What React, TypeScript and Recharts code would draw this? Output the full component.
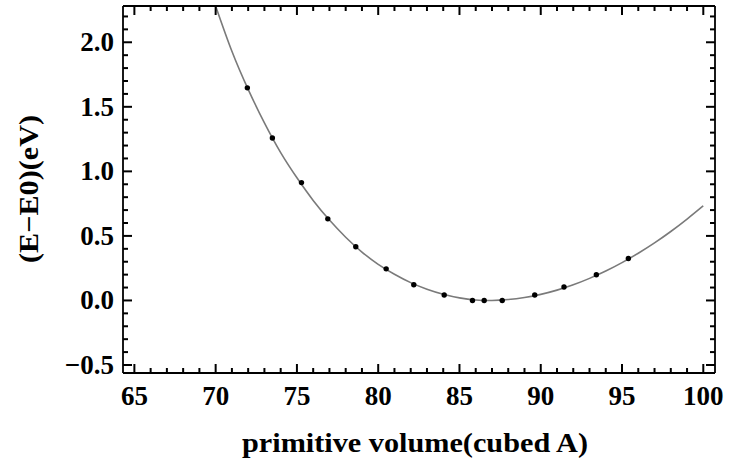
import { ComposedChart, Line, Scatter, XAxis, YAxis, Label } from 'recharts'

// computed energies at each primitive volume (cubed A), relative to E0 (eV)
const volumes = [71.95, 73.49, 75.28, 76.9, 78.62, 80.49, 82.19, 84.06, 85.8, 86.52, 87.63, 89.63, 91.43, 93.42, 95.39]
const energies = [1.647, 1.259, 0.913, 0.632, 0.416, 0.245, 0.122, 0.042, 0.0, 0.0, 0.0, 0.042, 0.104, 0.199, 0.325]

// fitted equation of state, sampled every 1 A^3
const fitVolumes = [70, 71, 72, 73, 74, 75, 76, 77, 78, 79, 80, 81, 82, 83, 84, 85, 86, 87, 88, 89, 90, 91, 92, 93, 94, 95, 96, 97, 98, 99, 100]
const fitEnergies = [2.28, 1.93, 1.635, 1.375, 1.145, 0.95, 0.775, 0.623, 0.49, 0.375, 0.28, 0.203, 0.138, 0.087, 0.048, 0.02, 0.004, 0.0, 0.007, 0.023, 0.047, 0.08, 0.121, 0.171, 0.228, 0.293, 0.366, 0.446, 0.534, 0.63, 0.733]

const xMajor = [65, 70, 75, 80, 85, 90, 95, 100]
const yMajor = [-0.5, 0, 0.5, 1, 1.5, 2]

const X_DOMAIN: [number, number] = [64.3, 100.72]
const Y_DOMAIN: [number, number] = [-0.562, 2.281]

const points = volumes.map((v, i) => ({ v, e: energies[i] }))
const fit = fitVolumes.map((v, i) => ({ v, e: fitEnergies[i] }))

// minor ticks every 1 on x and every 0.1 on y
const xTicks: number[] = []
for (let v = 65; v <= 100; v++) xTicks.push(v)
const yTicks: number[] = []
for (let k = -5; k <= 22; k++) yTicks.push(k / 10)

// frame of the plot box
const LEFT = 123
const RIGHT = 715
const TOP = 6
const BOTTOM = 373

const FONT = '"Liberation Serif", "Times New Roman", serif'
const MAJOR = 9
const MINOR = 5

const isMajorX = (v: number) => xMajor.includes(v)
const isMajorY = (v: number) => yMajor.some((m) => Math.abs(m - v) < 1e-6)
const fmtY = (v: number) => (v < 0 ? '\u2212' : '') + Math.abs(v).toFixed(1)

function BottomLabel({ payload }: any) {
  if (!isMajorX(payload.value)) return <g />
  return (
    <text x={payload.coordinate} y={BOTTOM + 23} textAnchor="middle" dominantBaseline="central" fontFamily={FONT} fontWeight="bold" fontSize={27} fill="#000">
      {payload.value}
    </text>
  )
}

function LeftLabel({ payload }: any) {
  if (!isMajorY(payload.value)) return <g />
  return (
    <text x={LEFT - 9} y={payload.coordinate} textAnchor="end" dominantBaseline="central" fontFamily={FONT} fontWeight="bold" fontSize={27} fill="#000">
      {fmtY(payload.value)}
    </text>
  )
}

const Dot = (p: any) => <circle cx={p.cx} cy={p.cy} r={2.7} fill="#000" />

const frame = { stroke: '#000', strokeWidth: 1.8 }

// inward tick marks along the four sides, one scatter series per side
const bottomTicks = xTicks.map((v) => ({ v, e: Y_DOMAIN[0], len: isMajorX(v) ? MAJOR : MINOR }))
const topTicks = xTicks.map((v) => ({ v, e: Y_DOMAIN[1], len: isMajorX(v) ? MAJOR : MINOR }))
const leftTicks = yTicks.map((e) => ({ v: X_DOMAIN[0], e, len: isMajorY(e) ? MAJOR : MINOR }))
const rightTicks = yTicks.map((e) => ({ v: X_DOMAIN[1], e, len: isMajorY(e) ? MAJOR : MINOR }))

const tickShape = (dx: number, dy: number) => (p: any) => (
  <path d={`M${p.cx},${p.cy}l${dx * p.payload.len},${dy * p.payload.len}`} stroke="#000" strokeWidth={2} fill="none" />
)

export default function App() {
  return (
    <div style={{ width: 729, height: 462, background: '#fff' }}>
      <style>{'body{margin:0}'}</style>
      <ComposedChart width={729} height={462} margin={{ top: TOP - 1, right: 729 - RIGHT - 1, left: 0, bottom: 0 }}>
        <XAxis
          xAxisId={0}
          type="number"
          dataKey="v"
          domain={X_DOMAIN}
          allowDataOverflow
          ticks={xTicks}
          interval={0}
          tickLine={false}
          height={462 - BOTTOM}
          axisLine={frame}
          tick={<BottomLabel />}
        >
          <Label
            content={() => (
              <text x={415} y={452} textAnchor="middle" textLength={346} lengthAdjust="spacingAndGlyphs" fontFamily={FONT} fontWeight="bold" fontSize={27} fill="#000">
                primitive volume(cubed A)
              </text>
            )}
          />
        </XAxis>
        <XAxis xAxisId="top" orientation="top" type="number" domain={X_DOMAIN} allowDataOverflow tick={false} tickLine={false} height={1} axisLine={frame} />
        <YAxis
          yAxisId={0}
          type="number"
          domain={Y_DOMAIN}
          allowDataOverflow
          ticks={yTicks}
          interval={0}
          tickLine={false}
          width={LEFT}
          axisLine={frame}
          tick={<LeftLabel />}
        >
          <Label
            content={() => (
              <text x={29} y={189} transform="rotate(-90 29 189)" textAnchor="middle" dominantBaseline="central" textLength={148} lengthAdjust="spacingAndGlyphs" fontFamily={FONT} fontWeight="bold" fontSize={27} fill="#000">
                (E−E0)(eV)
              </text>
            )}
          />
        </YAxis>
        <YAxis yAxisId="right" orientation="right" type="number" domain={Y_DOMAIN} allowDataOverflow tick={false} tickLine={false} width={1} axisLine={frame} />
        <Scatter data={bottomTicks} dataKey="e" shape={tickShape(0, -1)} isAnimationActive={false} />
        <Scatter data={topTicks} dataKey="e" shape={tickShape(0, 1)} isAnimationActive={false} />
        <Scatter data={leftTicks} dataKey="e" shape={tickShape(1, 0)} isAnimationActive={false} />
        <Scatter data={rightTicks} dataKey="e" shape={tickShape(-1, 0)} isAnimationActive={false} />
        <Line
          data={fit}
          dataKey="e"
          type="natural"
          stroke="#7a7a7a"
          strokeWidth={1.6}
          dot={false}
          activeDot={false}
          isAnimationActive={false}
        />
        <Scatter data={points} dataKey="e" shape={Dot} isAnimationActive={false} />
      </ComposedChart>
    </div>
  )
}
